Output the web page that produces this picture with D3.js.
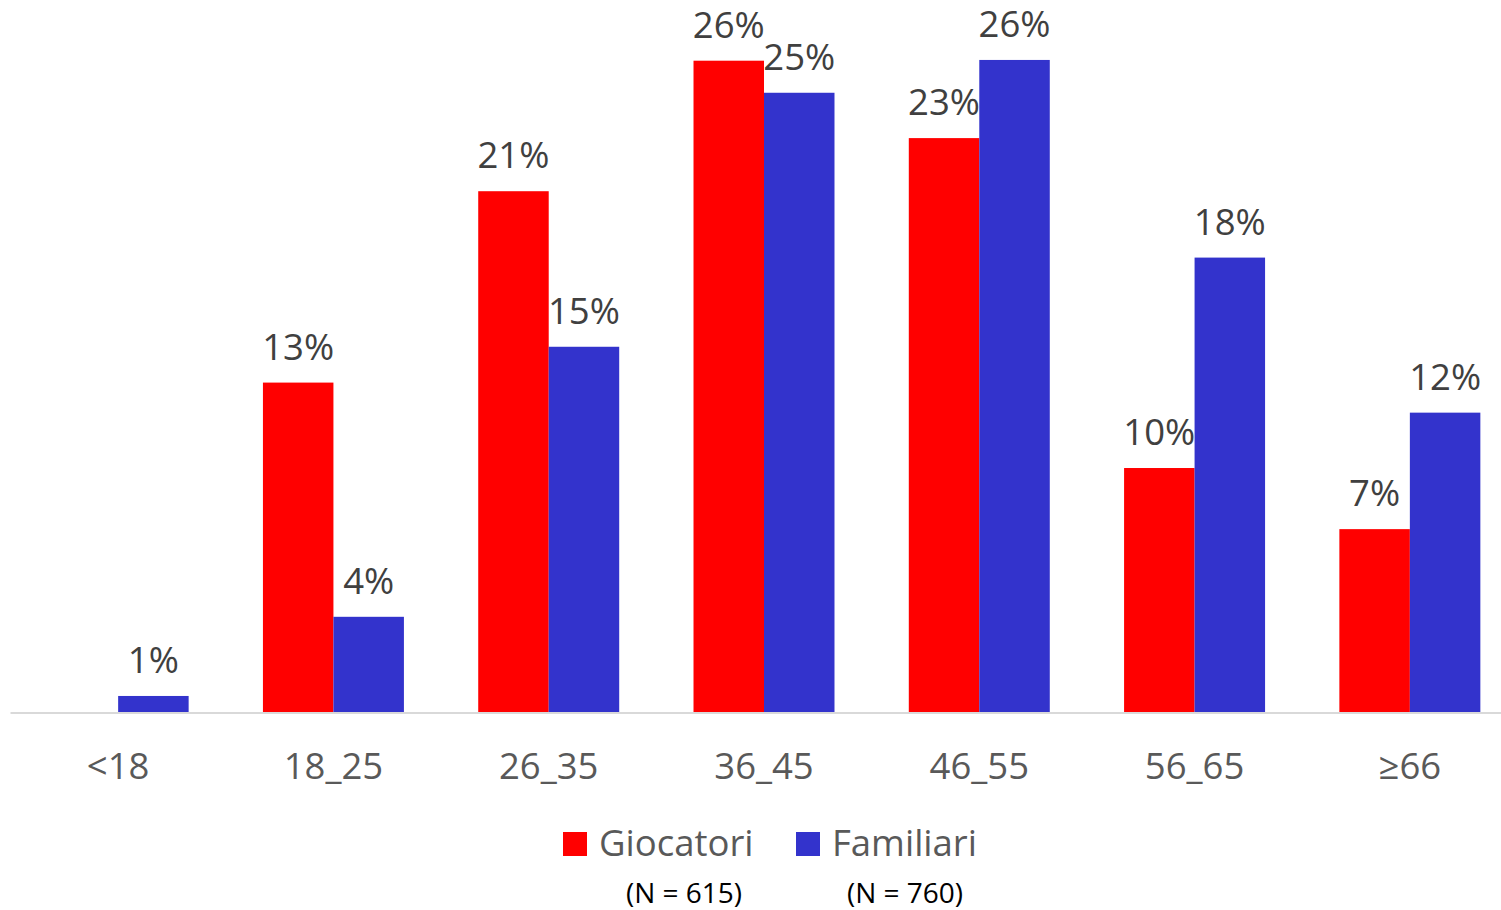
<!DOCTYPE html>
<html>
<head>
<meta charset="utf-8">
<script src="https://cdn.jsdelivr.net/npm/d3@7"></script>
<style>
  html, body { margin: 0; padding: 0; background: #fff; }
  svg { display: block; font-family: "Open Sans", "Noto Sans", sans-serif; }
</style>
</head>
<body>
<svg id="chart" width="1501" height="910"></svg>
<script>
const categories = ["<18", "18_25", "26_35", "36_45", "46_55", "56_65", "\u226566"];
const seriesNames = ["Giocatori", "Familiari"];
const giocatori = [0, 13.17, 20.81, 26.02, 22.93, 9.76, 7.32];
const familiari = [0.66, 3.82, 14.6, 24.74, 26.05, 18.16, 11.97];
const sampleLabels = ["(N = 615)", "(N = 760)"];
const colors = ["#FF0000", "#3333CC"];

const svg = d3.select("#chart");
const baseline = 712.5;

const x = d3.scaleBand().domain(categories).range([10.5, 1517.5]).paddingInner(0).paddingOuter(0);
const inner = d3.scaleBand().domain(seriesNames).range([0, x.bandwidth()]).paddingInner(0).paddingOuter(0.527);
const y = d3.scaleLinear().domain([0, 28]).range([baseline, baseline - 25.05 * 28]);

const rows = categories.map((c, i) => ({ cat: c, values: [giocatori[i], familiari[i]] }));

const groups = svg.append("g").selectAll("g").data(rows).join("g")
  .attr("transform", d => `translate(${x(d.cat)},0)`);

groups.selectAll("rect").data(d => d.values.map((v, j) => ({ v, s: seriesNames[j], j })))
  .join("rect")
  .filter(d => d.v > 0)
  .attr("x", d => inner(d.s))
  .attr("width", inner.bandwidth())
  .attr("y", d => y(d.v))
  .attr("height", d => baseline - y(d.v))
  .attr("fill", d => colors[d.j]);

groups.selectAll("text.lbl").data(d => d.values.map((v, j) => ({ v, s: seriesNames[j], j })).filter(d => d.v > 0))
  .join("text")
  .attr("class", "lbl")
  .attr("x", d => inner(d.s) + inner.bandwidth() / 2)
  .attr("y", d => y(d.v) - 23)
  .attr("text-anchor", "middle")
  .attr("font-size", 36.5)
  .attr("fill", "#404040")
  .text(d => Math.round(d.v) + "%");

// axis line
svg.append("line")
  .attr("x1", 10.5).attr("x2", 1501)
  .attr("y1", baseline + 0.5).attr("y2", baseline + 0.5)
  .attr("stroke", "#D9D9D9").attr("stroke-width", 2);

// category labels via axis
const axis = d3.axisBottom(x).tickSize(0).tickPadding(0);
const ag = svg.append("g").attr("transform", `translate(0,${baseline})`).call(axis);
ag.select(".domain").remove();
ag.selectAll("text")
  .attr("dy", null)
  .attr("y", 66)
  .attr("font-size", 36.5)
  .attr("font-family", "'Open Sans', 'Noto Sans', sans-serif")
  .attr("fill", "#595959");

// legend
const legendItems = [
  { name: seriesNames[0], color: colors[0], sx: 563, tx: 599, nx: 684, n: sampleLabels[0] },
  { name: seriesNames[1], color: colors[1], sx: 796, tx: 832, nx: 905, n: sampleLabels[1] }
];
const lg = svg.append("g");
legendItems.forEach(it => {
  lg.append("rect").attr("x", it.sx).attr("y", 832).attr("width", 24).attr("height", 24).attr("fill", it.color);
  lg.append("text").attr("x", it.tx).attr("y", 856).attr("font-size", 36.5).attr("fill", "#595959").text(it.name);
  lg.append("text").attr("x", it.nx).attr("y", 903).attr("text-anchor", "middle").attr("font-size", 28).attr("fill", "#000").text(it.n);
});
</script>
</body>
</html>
